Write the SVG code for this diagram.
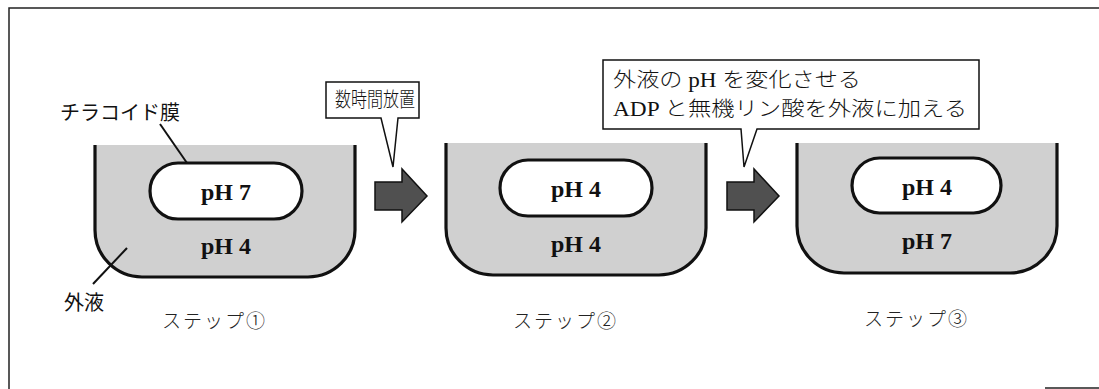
<svg xmlns="http://www.w3.org/2000/svg" width="1099" height="389" viewBox="0 0 1099 389">
<style>
.frame{fill:none;stroke:#222;stroke-width:1.5}
.beaker{fill:#d0d0d0;stroke:#111;stroke-width:3.2}
.cap{fill:#fff;stroke:#111;stroke-width:3.2}
.ph{font-family:"Liberation Serif",serif;font-weight:bold;font-size:24px;fill:#111;text-anchor:middle}
.lbl{font-family:"Noto Sans CJK JP",sans-serif;font-size:20px;fill:#111}
.step{font-family:"Noto Sans CJK JP",sans-serif;font-weight:300;font-size:19px;fill:#222;letter-spacing:2px}
.call{fill:#fff;stroke:#111;stroke-width:1.5;stroke-linejoin:miter}
.ctext{font-family:"Liberation Serif","Noto Sans CJK JP",sans-serif;font-weight:300;font-size:20px;fill:#111}
.arrow{fill:#505050;stroke:#111;stroke-width:1.5}
.lead{stroke:#111;stroke-width:2;fill:none}
</style>
<path class="frame" d="M1099,8 H9 V389"/>
<path class="frame" d="M1045,388 H1099"/>
<g id="beaker1">
<path class="beaker" d="M95,145 V230 A47,47 0 0 0 142,277 H308 A47,47 0 0 0 355,230 V145"/>
<rect class="cap" x="150" y="163" width="152" height="56" rx="28"/>
<text class="ph" x="226" y="200">pH 7</text>
<text class="ph" x="226" y="254">pH 4</text>
</g>
<g id="beaker2">
<path class="beaker" d="M446,143 V228 A47,47 0 0 0 493,275 H659 A47,47 0 0 0 706,228 V143"/>
<rect class="cap" x="500" y="160" width="152" height="56" rx="28"/>
<text class="ph" x="576" y="197">pH 4</text>
<text class="ph" x="576" y="252">pH 4</text>
</g>
<g id="beaker3">
<path class="beaker" d="M797,143 V226 A47,47 0 0 0 844,273 H1010 A47,47 0 0 0 1057,226 V143"/>
<rect class="cap" x="852" y="158" width="149" height="55" rx="27.5"/>
<text class="ph" x="927" y="195">pH 4</text>
<text class="ph" x="927" y="249">pH 7</text>
</g>
<g id="label-membrane">
<text class="lbl" x="60" y="120">チラコイド膜</text>
</g>
<g id="label-outer">
<text class="lbl" x="64" y="310">外液</text>
</g>
<g id="steps">
<text class="step" x="162" y="328">ステップ①</text>
<text class="step" x="513" y="328">ステップ②</text>
<text class="step" x="864" y="326">ステップ③</text>
</g>
<g id="callout1">
<path class="call" d="M326,82 H419 V118 H398 L393,167 L381,118 H326 Z"/>
<text class="ctext" x="335" y="107" textLength="80" lengthAdjust="spacingAndGlyphs">数時間放置</text>
</g>
<g id="callout2">
<path class="call" d="M603,60 H979 V129 H757 L744,167 L741,129 H603 Z"/>
<text class="ctext" x="613" y="87" textLength="248" lengthAdjust="spacingAndGlyphs">外液の pH を変化させる</text>
<text class="ctext" x="613" y="116" textLength="354" lengthAdjust="spacingAndGlyphs">ADP と無機リン酸を外液に加える</text>
</g>
<g id="connectors">
<line class="lead" x1="160" y1="124" x2="187" y2="163"/>
<line class="lead" x1="93" y1="284" x2="127" y2="248"/>
<path class="arrow" d="M375,182 H402 V169 L427,196 L402,222 V210 H375 Z"/>
<path class="arrow" d="M727,182 H754 V169 L779,196 L754,222 V210 H727 Z"/>
</g>
</svg>
